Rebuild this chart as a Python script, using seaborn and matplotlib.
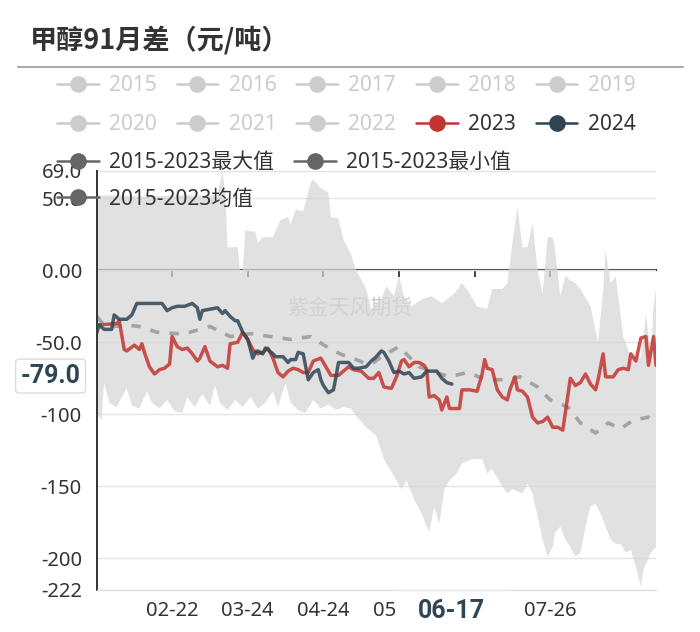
import matplotlib
matplotlib.use("Agg")
import matplotlib.pyplot as plt
from matplotlib.lines import Line2D
import seaborn as sns

sns.set_theme(style="white")
plt.rcParams['font.family'] = ['Noto Sans', 'Noto Sans CJK SC', 'DejaVu Sans']

# x = position of the day along the season (category index)
max_x = [0, 10, 20, 30, 40, 48, 50, 51, 52, 56, 57, 58, 59, 61, 63, 64, 66, 70, 73, 76, 77, 79, 82, 85,
         86, 89, 92, 93, 96, 98, 101, 103, 105, 107, 109, 113, 115, 118, 120, 122, 125, 129, 133, 137,
         142, 145, 148, 151, 155, 157, 161, 163, 165, 167, 169, 171, 173, 175, 177, 179, 181, 182, 184,
         186, 188, 190, 192, 196, 199, 201, 202, 204, 206, 209, 212, 216, 218, 220, 221, 222]
max_y = [52, 52, 51, 52, 52, 52, 69, 55, 16, 16, -2, 0, 28, 27, 27, 19, 23, 23, 35, 37, 32, 42, 41, 61,
         63, 57, 54, 37, 36, 21, 11, 0, -6, -13, -27, -20, -11, -18, -4, -18, -25, -20, -18, -23,
         -16, -9, -16, -25, -27, -13, -13, -9, 19, 44, 16, 16, 33, 0, -16, 23, 23, 14, -18,
         -4, -7, -9, -13, -25, -50, -15, 14, -9, -4, -46, -60, -60, -30, -60, -25, -13]
min_x = [0, 2, 3, 5, 8, 10, 12, 14, 17, 20, 22, 25, 28, 31, 34, 36, 39, 42, 45, 47, 49, 52, 55, 58, 61,
         64, 67, 70, 72, 75, 77, 80, 83, 86, 89, 92, 95, 98, 101, 103, 107, 111, 114, 119, 121, 123, 126,
         129, 132, 134, 136, 138, 140, 143, 145, 149, 153, 155, 157, 161, 163, 165, 169, 171, 173, 177,
         179, 181, 182, 184, 186, 188, 190, 192, 194, 196, 198, 200, 202, 204, 206, 208, 210, 212, 214,
         216, 217, 220, 221, 222]
min_y = [-100, -104, -78, -92, -95, -88, -82, -94, -96, -84, -92, -96, -90, -98, -99, -88, -95, -86, -94,
         -80, -92, -97, -90, -95, -88, -96, -92, -84, -95, -78, -92, -97, -99, -90, -96, -93, -97, -95,
         -96, -101, -109, -115, -131, -146, -152, -146, -159, -169, -182, -164, -176, -152, -146, -141,
         -134, -131, -131, -141, -138, -150, -155, -152, -155, -148, -155, -187, -199, -192, -182, -178,
         -187, -192, -199, -196, -178, -164, -162, -169, -178, -187, -190, -190, -196, -194, -206, -220,
         -208, -196, -194, -192]
mean_x = [0, 3, 7, 12, 17, 24, 32, 37, 45, 53, 61, 69, 77, 85, 93, 98, 103, 107, 110, 113, 120, 128,
          140, 147, 155, 163, 168, 175, 180, 187, 192, 198, 203, 208, 213, 219, 222]
mean_y = [-32, -38, -39, -38, -39, -43, -44, -43, -39, -46, -44, -46, -48, -46, -55, -59, -62, -65, -64,
          -60, -53, -67, -74, -71, -76, -76, -74, -81, -90, -95, -106, -113, -106, -110, -104, -102, -106]
x2023 = [0, 8, 9, 11, 12, 15, 17, 18, 19, 21, 23, 25, 27, 29, 30, 32, 34, 36, 38, 40, 41, 43, 45, 48,
         50, 52, 53, 56, 58, 60, 62, 64, 66, 68, 70, 72, 74, 76, 78, 80, 82, 84, 86, 89, 91, 93, 96, 98,
         100, 102, 105, 108, 110, 112, 114, 117, 119, 121, 122, 124, 126, 128, 130, 131, 132, 134, 136,
         137, 139, 140, 142, 144, 145, 148, 151, 153, 154, 155, 157, 159, 161, 163, 164, 166, 167, 169,
         171, 173, 175, 177, 179, 181, 183, 185, 186, 188, 190, 192, 194, 196, 198, 199, 201, 202, 205,
         207, 209, 211, 212, 214, 216, 218, 219, 221, 222]
y2023 = [-38, -37, -35, -55, -56, -52, -55, -51, -57, -67, -72, -69, -68, -65, -46, -53, -55, -54, -58,
         -63, -61, -53, -63, -67, -66, -68, -51, -50, -43, -48, -55, -58, -57, -54, -61, -71, -74, -70,
         -68, -69, -71, -71, -63, -61, -67, -73, -73, -70, -67, -69, -70, -75, -75, -71, -81, -82, -74,
         -63, -62, -67, -64, -64, -66, -69, -88, -87, -90, -97, -88, -96, -96, -96, -83, -83, -84, -72,
         -62, -68, -69, -83, -88, -90, -83, -74, -83, -84, -88, -102, -106, -105, -102, -109, -109, -111,
         -99, -75, -80, -78, -72, -79, -83, -76, -58, -74, -74, -69, -68, -69, -58, -63, -47, -46, -66,
         -46, -66]
x2024 = [0, 1, 3, 6, 7, 9, 12, 14, 16, 19, 26, 28, 30, 32, 35, 38, 40, 41, 42, 45, 48, 50, 51, 53, 55,
         56, 58, 60, 62, 63, 64, 66, 67, 68, 70, 71, 74, 76, 77, 79, 80, 82, 84, 86, 88, 89, 90, 92, 94,
         95, 96, 100, 102, 104, 107, 109, 111, 113, 114, 116, 118, 120, 122, 124, 126, 129, 131, 135,
         137, 139, 141]
y2024 = [-44, -38, -41, -41, -31, -34, -34, -31, -23, -23, -23, -28, -26, -25, -25, -23, -26, -34, -28,
         -27, -26, -30, -28, -32, -35, -35, -43, -48, -61, -57, -56, -58, -54, -55, -58, -60, -60, -64,
         -62, -62, -57, -58, -76, -71, -69, -76, -80, -85, -83, -74, -64, -64, -68, -68, -67, -63, -60,
         -56, -57, -63, -71, -70, -72, -71, -75, -74, -70, -70, -75, -78, -79]

tick_pos = [30, 60, 90, 120, 150, 180]
tick_labels = ['02-22', '03-24', '04-24', '05-24', '06-24', '07-26']
y_ticks = [69, 50, 0, -50, -100, -150, -200, -222]
y_labels = ['69.0', '50.0', '0.00', '-50.0', '-100', '-150', '-200', '-222']
grey_years = ['2015', '2016', '2017', '2018', '2019', '2020', '2021', '2022']
stat_labels = ['2015-2023最大值', '2015-2023均值', '2015-2023最小值']
pointer_x = 141
pointer_date = '06-17'
pointer_value = '-79.0'

RED = '#c23531'
NAVY = '#2f4554'
TXT = '#333333'
BOLD_FONT = ['Roboto', 'DejaVu Sans']

fig = plt.figure(figsize=(7, 6.32), dpi=100)
ax = fig.add_axes([0.1379, 0.0665, 0.7993, 0.663])
ax.set_xlim(0, 222)
ax.set_ylim(-222, 69)

ax.fill(max_x + min_x[::-1], max_y + min_y[::-1], color='#d6d6d6', alpha=0.72, lw=0, zorder=1)
sns.lineplot(x=mean_x, y=mean_y, ax=ax, color='#a3a3a3', linewidth=2.6,
             linestyle=(0, (2.6, 2.8)), zorder=2)
sns.lineplot(x=x2023, y=y2023, ax=ax, color=RED, alpha=0.85, linewidth=2.5, zorder=3)
sns.lineplot(x=x2024, y=y2024, ax=ax, color=NAVY, alpha=0.85, linewidth=2.5, zorder=4)

# axes styling
ax.set_axisbelow(True)
ax.set_yticks(y_ticks)
ax.set_yticklabels(y_labels)
ax.grid(axis='y', color='#e2e2e2', linewidth=1.0)
ax.grid(axis='x', visible=False)
for s in ['top', 'right', 'bottom']:
    ax.spines[s].set_visible(False)
ax.spines['left'].set_color(TXT)
ax.spines['left'].set_linewidth(1.4)
ax.tick_params(axis='y', length=7.5, width=1.2, color=TXT, labelcolor=TXT, labelsize=14.5, pad=3)
ax.set_xticks(tick_pos)
ax.set_xticklabels(tick_labels)
ax.tick_params(axis='x', length=0, labelcolor=TXT, labelsize=14.5, pad=8)
ax.set_xlabel('')
ax.set_ylabel('')

# x axis line crossing at zero
zero_frac = (0 - (-222)) / (69 - (-222))
sec = ax.secondary_xaxis(zero_frac)
sec.set_alignment('bottom')
sec.set_xticks(tick_pos)
sec.tick_params(axis='x', length=5, width=1.3, color=TXT, labelbottom=False)
sec.spines['bottom'].set_color(TXT)
sec.spines['bottom'].set_linewidth(1.5)

# watermark
ax.text(0.453, 0.673, '紫金天风期货', transform=ax.transAxes, ha='center', va='center',
        fontsize=15, color='#c8c8c8', zorder=0)

# axis pointer labels (the date label hides the ticks labels under it)
ax.annotate(pointer_date, xy=(pointer_x, 0), xycoords=('data', 'axes fraction'),
            xytext=(0, -21), textcoords='offset pixels', ha='center', va='center',
            fontsize=18, fontweight='bold', family=BOLD_FONT, color=NAVY, zorder=20,
            annotation_clip=False,
            bbox=dict(boxstyle='square,pad=0.95', fc='white', ec='none'))
ax.axhline(-222, color='#e2e2e2', linewidth=1.0, zorder=21, clip_on=False)
ax.annotate(pointer_value, xy=(0, -79), xycoords=('axes fraction', 'data'),
            xytext=(-46, 8), textcoords='offset pixels', ha='center', va='center',
            fontsize=18, fontweight='bold', family=BOLD_FONT, color=NAVY, zorder=20,
            annotation_clip=False,
            bbox=dict(boxstyle='round,pad=0.2,rounding_size=0.15', fc='white', ec='#dcdcdc', lw=1))

# title and rule
fig.text(30 / 700, 1 - 40 / 632, '甲醇91月差（元/吨）', ha='left', va='center',
         fontsize=19.5, fontweight='bold', family=['Noto Sans CJK SC'], color=TXT)
fig.add_artist(Line2D([18 / 700, 683 / 700], [1 - 67 / 632] * 2, transform=fig.transFigure,
                      color='#aaaaaa', linewidth=1.5))

# legends
def handle(c):
    return Line2D([], [], color=c, marker='o', markersize=11, linewidth=1.8)

year_labels = grey_years + ['2023', '2024']
year_colors = ['#cccccc'] * len(grey_years) + [RED, NAVY]
# matplotlib fills legend columns first, so interleave the two rows
order = [i + r * 5 for i in range(5) for r in range(2)]
leg1 = fig.legend([handle(year_colors[k]) for k in order], [year_labels[k] for k in order],
                  loc='upper left', ncol=5, frameon=False,
                  bbox_to_anchor=(57 / 700, 1 - 75 / 632), borderpad=0, borderaxespad=0,
                  fontsize=15, handlelength=2.0, handletextpad=0.5, columnspacing=0.95,
                  labelspacing=0.88)
for k, t in zip(order, leg1.get_texts()):
    t.set_color('#cccccc' if k < len(grey_years) else TXT)

leg2 = fig.legend([handle('#666666') for _ in stat_labels], stat_labels, loc='upper left', ncol=2,
                  frameon=False, bbox_to_anchor=(57 / 700, 1 - 152 / 632), borderpad=0,
                  borderaxespad=0, fontsize=15, handlelength=2.0, handletextpad=0.5,
                  columnspacing=0.95, labelspacing=0.75)
for t in leg2.get_texts():
    t.set_color(TXT)

fig.savefig('out.png', dpi=100)
